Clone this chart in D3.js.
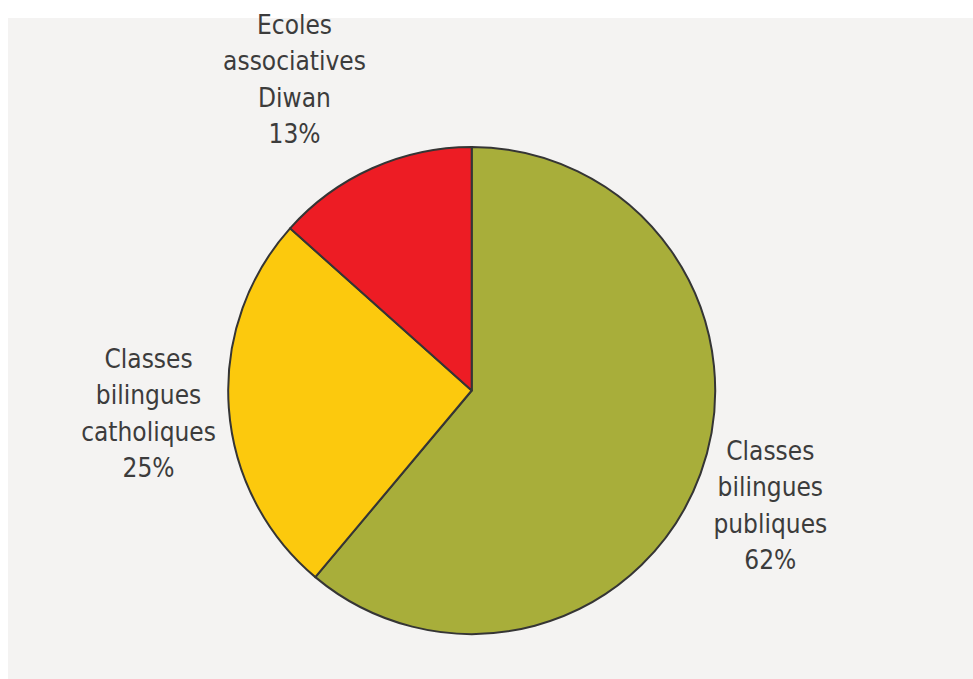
<!DOCTYPE html>
<html>
<head>
<meta charset="utf-8">
<script src="https://cdn.jsdelivr.net/npm/d3@7"></script>
<style>
  body { margin: 0; background: #ffffff; }
  svg { display: block; }
</style>
</head>
<body>
<div id="chart"></div>
<script>
const categories = ["Classes bilingues publiques", "Classes bilingues catholiques", "Ecoles associatives Diwan"];
const labelLines = [["Classes", "bilingues", "publiques"], ["Classes", "bilingues", "catholiques"], ["Ecoles", "associatives", "Diwan"]];
const values = [61.1, 25.5, 13.4];
const pctLabels = ["62%", "25%", "13%"];
const colors = ["#a8ae3a", "#fcc90d", "#ed1c24"];

const width = 973, height = 679;
const cx = 471.7, cy = 390.5, radius = 243.5;
const labelRadius = 322;
// nudge for each label block so it sits like the original
const labelNudge = [[-4, 6.5], [-2, 1.5], [-45.6, -15.8]];
const lineHeight = 36.5;

const svg = d3.select("#chart")
  .append("svg")
  .attr("width", width)
  .attr("height", height);

// grey panel behind the chart
svg.append("rect")
  .attr("x", 8)
  .attr("y", 18)
  .attr("width", width - 8)
  .attr("height", height - 18)
  .attr("fill", "#f4f3f2");

const data = categories.map((c, i) => ({name: c, value: values[i], lines: labelLines[i].concat([pctLabels[i]]), color: colors[i]}));

const pie = d3.pie()
  .value(d => d.value)
  .sort(null);

const arc = d3.arc()
  .innerRadius(0)
  .outerRadius(radius);

const labelArc = d3.arc()
  .innerRadius(labelRadius)
  .outerRadius(labelRadius);

const g = svg.append("g")
  .attr("transform", `translate(${cx}, ${cy})`);

const arcs = pie(data);

g.selectAll("path")
  .data(arcs)
  .join("path")
  .attr("d", arc)
  .attr("fill", d => d.data.color)
  .attr("stroke", "#353535")
  .attr("stroke-width", 2)
  .attr("stroke-linejoin", "round");

// labels outside the pie
const labels = g.selectAll("text.label")
  .data(arcs)
  .join("text")
  .attr("class", "label")
  .attr("text-anchor", "middle")
  .style("font-family", "'DejaVu Sans Condensed', 'DejaVu Sans', sans-serif")
  .style("font-size", "26px")
  .style("fill", "#3c3c3c")
  .attr("transform", (d, i) => {
    const c = labelArc.centroid(d);
    return `translate(${c[0] + labelNudge[i][0]}, ${c[1] + labelNudge[i][1]})`;
  });

labels.each(function(d) {
  const t = d3.select(this);
  const n = d.data.lines.length;
  t.selectAll("tspan")
    .data(d.data.lines)
    .join("tspan")
    .attr("x", 0)
    .attr("y", (s, j) => (j - (n - 1) / 2) * lineHeight + 7.5)
    .text(s => s);
});
</script>
</body>
</html>
